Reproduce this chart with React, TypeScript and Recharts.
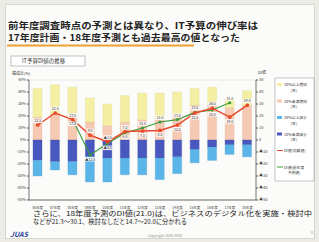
import React from "react";
import {
  Bar,
  CartesianGrid,
  ComposedChart,
  LabelList,
  Line,
  XAxis,
  YAxis
} from "recharts";

// 年度
const years = [
  "06年度", "07年度", "08年度", "09年度", "10年度", "11年度", "12年度",
  "13年度", "14年度", "15年度", "16年度", "17年度", "18年度"
];

// 構成比(%) 増加側は正、減少側は負
const incLarge = [24, 24, 23, 20, 18, 22, 22, 21, 18, 14, 13, 8, 12];
const incSmall = [19, 22, 21, 15, 12, 15, 17, 18, 22, 29, 31, 27, 29];
const decSmall = [-17, -18, -18, -14, -15, -15, -15, -15, -14, -8, -6, -4, -4];
const decLarge = [-13, -7, -11, -21, -20, -14, -14, -18, -14, -11, -11, -8, -10];

// DI値
const diActual = [12.5, 22.5, 17.0, 4.0, -1.5, 7.0, 7.5, 8.0, 12.5, 22.5, 26.5, 19.0, 29.0];
const diForecast = [null, null, 17.0, -12.5, -3.0, 6.0, 10.0, 15.0, 17.0, 23.0, 25.0, 31.0, null];

const ticks = [50, 40, 30, 20, 10, 0, -10, -20, -30, -40, -50];

const legendItems = [
  { label: ["10%以上増加", "(率)"], color: "#f4efa2", kind: "bar" },
  { label: ["10%未満増加", "(率)"], color: "#f6c9b2", kind: "bar" },
  { label: ["10%以上減少", "(率)"], color: "#5bb5e8", kind: "bar" },
  { label: ["10%未満減少", "(率)"], color: "#4858bf", kind: "bar" },
  { label: ["DI値(実績値)"], color: "#e8492c", kind: "line" },
  { label: ["DI値(前年度", "予測値)"], color: "#3c9a3c", kind: "line" }
];

const data = years.map((year, i) => ({
  year,
  incLarge: incLarge[i],
  incSmall: incSmall[i],
  decSmall: decSmall[i],
  decLarge: decLarge[i],
  diActual: diActual[i],
  diForecast: diForecast[i]
}));

const fmtDi = (v: number) => (v < 0 ? `▲${Math.abs(v).toFixed(1)}` : v.toFixed(1));

// 予測が実績より上なら予測ラベルを上、実績ラベルを下に置く
const forecastAbove = (i: number) => {
  const f = diForecast[i];
  return f != null && f > diActual[i];
};

const makeLabel = (series: "actual" | "forecast") => (props: any) => {
  const { x, y, value, index } = props;
  if (value == null) return null;
  const up = series === "actual" ? !forecastAbove(index) : forecastAbove(index);
  const dy = up ? -3 : 5.5;
  const t = fmtDi(value);
  const w = t.length * 2.1 + 1;
  return (
    <g>
      <rect x={x - w / 2} y={y + dy - 3.5} width={w} height={4.5} fill="#ffffff" opacity={0.85} />
      <text x={x} y={y + dy} fontSize={3.5} textAnchor="middle" fill="#333">
        {t}
      </text>
    </g>
  );
};

const App: React.FC = () => {
  return (
    <div
      style={{
        position: "fixed",
        left: 0,
        top: 0,
        width: 319,
        height: 242,
        background: "#ecebe5",
        overflow: "hidden",
        fontFamily: '"Noto Sans CJK JP", sans-serif'
      }}
    >
      <div
        style={{
          position: "absolute",
          left: 5,
          top: 4,
          width: 308,
          height: 233,
          background: "#fbfbf9",
          border: "1px solid #d6d6d0"
        }}
      />
      <svg
        width={319}
        height={242}
        style={{ position: "absolute", left: 0, top: 0 }}
        fontFamily='"Noto Sans CJK JP", sans-serif'
      >
        <text x={8} y={29} fontSize={9} fontWeight="bold" fill="#222" textLength={250} lengthAdjust="spacingAndGlyphs">
          前年度調査時点の予測とは異なり、IT予算の伸び率は
        </text>
        <text x={8} y={41} fontSize={9} fontWeight="bold" fill="#222" textLength={232} lengthAdjust="spacingAndGlyphs">
          17年度計画・18年度予測とも過去最高の値となった
        </text>
        <rect x={7} y={44.5} width={187} height={2} fill="#f0a030" />
        <rect x={11} y={56} width={74} height={10} fill="#fff" stroke="#999" strokeWidth={0.6} />
        <text x={22} y={63.3} fontSize={5.5} fill="#333">IT予算DI値の推移</text>
        <text x={12} y={75} fontSize={4} fill="#333">構成比(%)</text>
        <text x={258} y={74} fontSize={4} fill="#333">DI値</text>
        <text x={33} y={216} fontSize={6.3} fill="#222" textLength={279} lengthAdjust="spacingAndGlyphs">
          さらに、18年度予測のDI値(21.0)は、ビジネスのデジタル化を実施・検討中
        </text>
        <text x={33} y={224} fontSize={6.3} fill="#222" textLength={154} lengthAdjust="spacingAndGlyphs">
          などが21.3～30.1、検討なしだと14.7～20.0に分かれる
        </text>
        <text x={10} y={237} fontSize={7} fontWeight="bold" fontStyle="italic" fill="#2a3f9a">JUAS</text>
        <text x={165} y={237} fontSize={3.5} fill="#888" textAnchor="middle">Copyright JUAS 2018</text>
        <text x={313} y={234} fontSize={3.5} fill="#888" textAnchor="end">8</text>
      </svg>
      <ComposedChart
        width={319}
        height={242}
        data={data}
        stackOffset="sign"
        barCategoryGap={4}
        margin={{ top: 80, right: 47, bottom: 34, left: 9 }}
        style={{ position: "absolute", left: 0, top: 0 }}
      >
        <CartesianGrid vertical={false} stroke="#d8d8d8" strokeWidth={0.6} />
        <XAxis
          dataKey="year"
          height={8}
          interval={0}
          tick={{ fontSize: 3.4, fill: "#444" }}
          tickLine={false}
          tickMargin={1}
          axisLine={{ stroke: "#555", strokeWidth: 0.8 }}
        />
        <YAxis
          yAxisId="left"
          width={20}
          domain={[-50, 50]}
          ticks={ticks}
          tick={{ fontSize: 4, fill: "#444" }}
          tickFormatter={(v) => `${v}%`}
          tickSize={2}
          tickMargin={1}
          axisLine={{ stroke: "#555", strokeWidth: 0.8 }}
          tickLine={{ stroke: "#555" }}
        />
        <YAxis
          yAxisId="right"
          orientation="right"
          width={16}
          domain={[-50, 50]}
          ticks={ticks}
          tick={{ fontSize: 4, fill: "#444", textAnchor: "start" }}
          tickFormatter={(v) => (v < 0 ? `▲${Math.abs(v)}` : `${v}`)}
          tickSize={2}
          tickMargin={1}
          axisLine={{ stroke: "#555", strokeWidth: 0.8 }}
          tickLine={{ stroke: "#555" }}
        />
        <Bar yAxisId="left" dataKey="incSmall" stackId="a" fill="#f6c9b2" stroke="#e0b29c" strokeWidth={0.3} barSize={9} isAnimationActive={false} />
        <Bar yAxisId="left" dataKey="incLarge" stackId="a" fill="#f4efa2" stroke="#dcd78a" strokeWidth={0.3} barSize={9} isAnimationActive={false} />
        <Bar yAxisId="left" dataKey="decSmall" stackId="a" fill="#4858bf" stroke="#3a48a0" strokeWidth={0.3} barSize={9} isAnimationActive={false} />
        <Bar yAxisId="left" dataKey="decLarge" stackId="a" fill="#5bb5e8" stroke="#4a9ccc" strokeWidth={0.3} barSize={9} isAnimationActive={false} />
        <Line
          yAxisId="right"
          dataKey="diForecast"
          stroke="#3c9a3c"
          strokeWidth={1.2}
          dot={{ r: 0.9, fill: "#3c9a3c", stroke: "#3c9a3c" }}
          connectNulls={false}
          isAnimationActive={false}
        >
          <LabelList dataKey="diForecast" content={makeLabel("forecast")} />
        </Line>
        <Line
          yAxisId="right"
          dataKey="diActual"
          stroke="#e8492c"
          strokeWidth={1.5}
          dot={{ r: 1.1, fill: "#e8492c", stroke: "#e8492c" }}
          isAnimationActive={false}
        >
          <LabelList dataKey="diActual" content={makeLabel("actual")} />
        </Line>
      </ComposedChart>
      <svg
        width={319}
        height={242}
        style={{ position: "absolute", left: 0, top: 0, pointerEvents: "none" }}
        fontFamily='"Noto Sans CJK JP", sans-serif'
      >
        <rect x={275} y={78} width={39} height={103} fill="#fff" stroke="#999" strokeWidth={0.6} />
        {legendItems.map((item, i) => {
          const y = 86 + i * 16.5;
          return (
            <g key={item.label[0]}>
              {item.kind === "bar" ? (
                <rect x={277} y={y - 3} width={5} height={3} fill={item.color} />
              ) : (
                <line x1={277} x2={283} y1={y - 1.5} y2={y - 1.5} stroke={item.color} strokeWidth={1} />
              )}
              {item.label.map((line, j) => (
                <text
                  key={line}
                  x={j === 0 ? 284 : 294}
                  y={y + j * 5.5}
                  fontSize={3.8}
                  fill="#333"
                  textAnchor={j === 0 ? "start" : "middle"}
                >
                  {line}
                </text>
              ))}
            </g>
          );
        })}
      </svg>
    </div>
  );
};

export default App;
